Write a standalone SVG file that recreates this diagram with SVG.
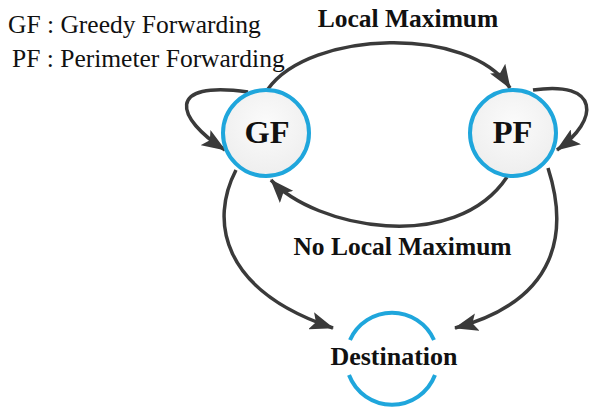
<svg xmlns="http://www.w3.org/2000/svg" width="591" height="411" viewBox="0 0 591 411">
  <defs>
    <radialGradient id="nodeFill" cx="50%" cy="40%" r="60%">
      <stop offset="0" stop-color="#fbfbfb"/>
      <stop offset="1" stop-color="#eeeeee"/>
    </radialGradient>
    <marker id="arr" viewBox="0 0 24 18" refX="23" refY="9" markerWidth="24" markerHeight="18" markerUnits="userSpaceOnUse" orient="auto">
      <path d="M0,0 L24,9 L0,18 L5,9 z" fill="#3a3a3a"/>
    </marker>
  </defs>
  <style>
    .edge { fill: none; stroke: #3a3a3a; stroke-width: 3.5; marker-end: url(#arr); }
    .node { fill: url(#nodeFill); stroke: #1fa6dc; stroke-width: 4; }
    .arc { fill: none; stroke: #1fa6dc; stroke-width: 4; }
    .lbl { font-family: "Liberation Serif", "Times New Roman", serif; font-weight: bold; fill: #111; text-anchor: middle; }
    .legend { font-family: "Liberation Serif", "Times New Roman", serif; font-size: 25.5px; fill: #111; }
  </style>
  <rect width="591" height="411" fill="#ffffff"/>

  <g id="legend">
    <text class="legend" x="8" y="33">GF : Greedy Forwarding</text>
    <text class="legend" x="12" y="67">PF : Perimeter Forwarding</text>
  </g>

  <g id="connectors">
    <path class="edge" d="M268,89 C310,30 470,25 510,88"/>
    <path class="edge" d="M248,92 C165,80 175,118 225,150"/>
    <path class="edge" d="M533,90 C600,80 600,120 557,150"/>
    <path class="edge" d="M507,177 C455,255 315,228 271,180"/>
    <path class="edge" d="M236,170 C210,220 220,290 333,328"/>
    <path class="edge" d="M548,168 C568,230 560,300 455,328"/>
    <text class="lbl" x="408" y="27" font-size="25.5">Local Maximum</text>
    <text class="lbl" x="402.5" y="255" font-size="25.5">No Local Maximum</text>
  </g>

  <g id="node-gf">
    <circle class="node" cx="266" cy="133" r="43"/>
    <text class="lbl" x="267" y="143" font-size="32.5">GF</text>
  </g>

  <g id="node-pf">
    <circle class="node" cx="513" cy="133" r="43"/>
    <text class="lbl" x="512.5" y="143" font-size="32.5">PF</text>
  </g>

  <g id="node-destination">
    <path class="arc" d="M350,340 A46,46 0 0 1 434,340"/>
    <path class="arc" d="M349,375 A46,46 0 0 0 435,375"/>
    <text class="lbl" x="394" y="365" font-size="26">Destination</text>
  </g>
</svg>
